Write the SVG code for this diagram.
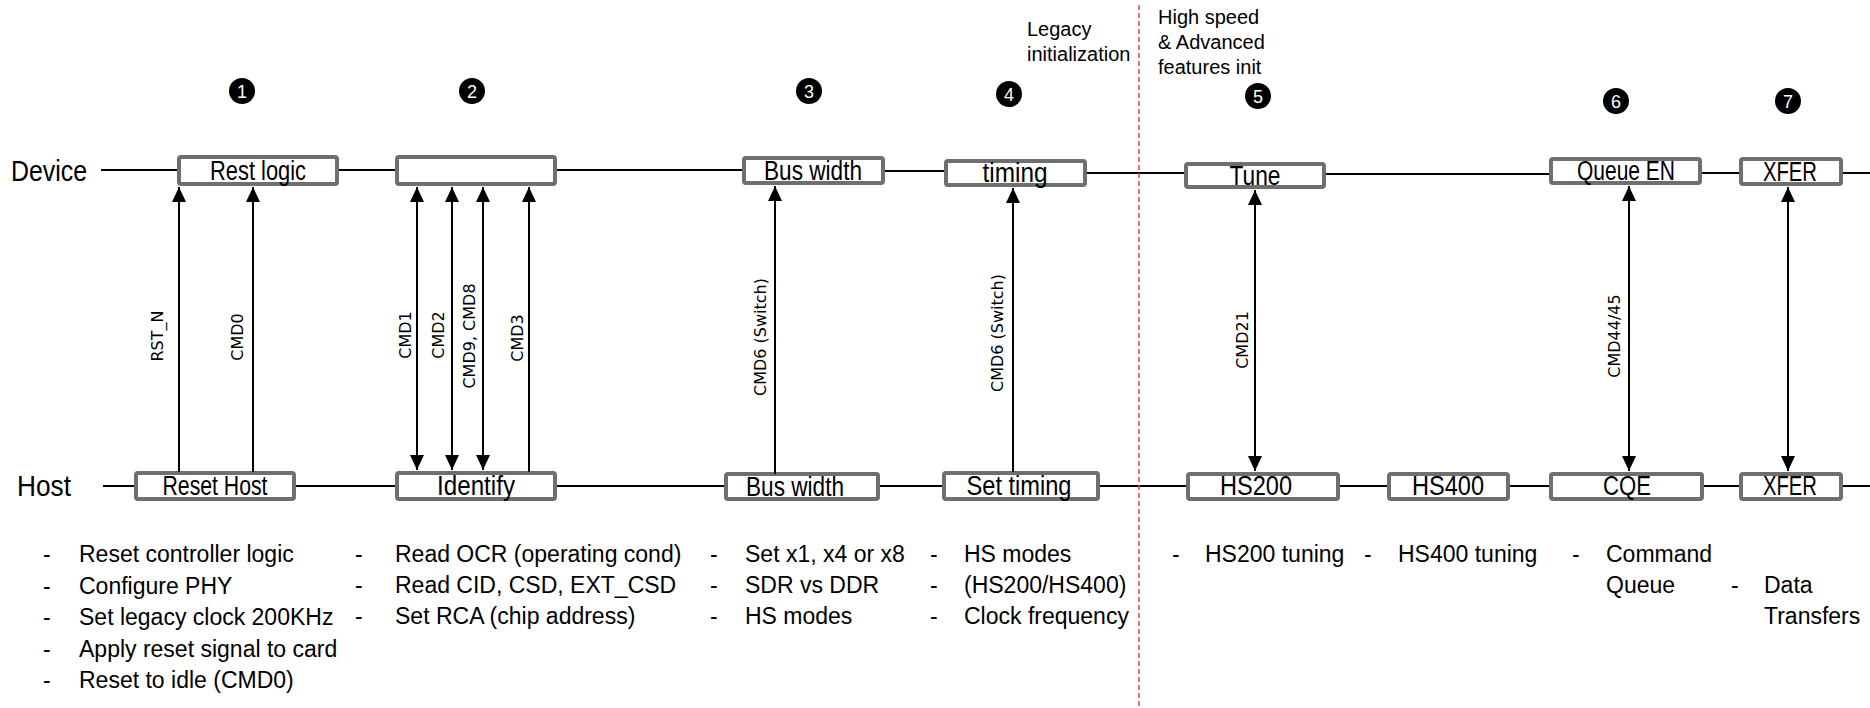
<svg xmlns="http://www.w3.org/2000/svg" width="1870" height="708" viewBox="0 0 1870 708">
<style>
.bx{fill:#fff;stroke:#6f6f6f;stroke-width:4}
.bl{font-family:"Liberation Sans",Arial,sans-serif;font-size:27px;fill:#000;text-anchor:middle}
.lane{font-family:"Liberation Sans",Arial,sans-serif;font-size:29px;fill:#000}
.bul{font-family:"Liberation Sans",Arial,sans-serif;font-size:23px;fill:#000}
.hdr{font-family:"Liberation Sans",Arial,sans-serif;font-size:20px;fill:#000}
.cl{font-family:"DejaVu Sans",Verdana,sans-serif;font-size:16px;fill:#000;text-anchor:middle}
.num{font-family:"Liberation Sans",Arial,sans-serif;font-size:18px;fill:#fff;text-anchor:middle}
.ln{stroke:#000;stroke-width:2;fill:none}
.ar{stroke:#000;stroke-width:2;fill:none;marker-end:url(#ah)}
.ar2{stroke:#000;stroke-width:2;fill:none;marker-end:url(#ah);marker-start:url(#ah)}
</style>
<defs>
<marker id="ah" viewBox="0 0 15 14" refX="15" refY="7" markerWidth="15" markerHeight="14" markerUnits="userSpaceOnUse" orient="auto-start-reverse">
<path d="M0,0 L15,7 L0,14 Z" fill="#000"/>
</marker>
</defs>

<!-- lifelines -->
<g id="lifelines">
<line class="ln" x1="101" y1="170" x2="179" y2="170"/>
<line class="ln" x1="337" y1="170" x2="397" y2="170"/>
<line class="ln" x1="555" y1="170" x2="744" y2="170"/>
<line class="ln" x1="883" y1="171" x2="946" y2="171"/>
<line class="ln" x1="1085" y1="173" x2="1186" y2="173"/>
<line class="ln" x1="1324" y1="174" x2="1551" y2="174"/>
<line class="ln" x1="1700" y1="173" x2="1741" y2="173"/>
<line class="ln" x1="1841" y1="173" x2="1870" y2="173"/>
<line class="ln" x1="103" y1="486" x2="1870" y2="486"/>
</g>

<line x1="1139" y1="5" x2="1139" y2="708" stroke="#e0463c" stroke-width="1.5" stroke-dasharray="5,3"/>

<text class="lane" x="11" y="181" textLength="76" lengthAdjust="spacingAndGlyphs">Device</text>
<text class="lane" x="17" y="496" textLength="54" lengthAdjust="spacingAndGlyphs">Host</text>

<text class="hdr" x="1027" y="36">Legacy</text>
<text class="hdr" x="1027" y="61">initialization</text>
<text class="hdr" x="1158" y="24">High speed</text>
<text class="hdr" x="1158" y="49">&amp; Advanced</text>
<text class="hdr" x="1158" y="74">features init</text>

<!-- step markers -->
<g id="steps">
<circle cx="242" cy="91" r="13"/><text class="num" x="242" y="97.5">1</text>
<circle cx="472" cy="91" r="13"/><text class="num" x="472" y="97.5">2</text>
<circle cx="809" cy="91" r="13"/><text class="num" x="809" y="97.5">3</text>
<circle cx="1009" cy="94" r="13"/><text class="num" x="1009" y="100.5">4</text>
<circle cx="1258" cy="96" r="13"/><text class="num" x="1258" y="102.5">5</text>
<circle cx="1616" cy="101" r="13"/><text class="num" x="1616" y="107.5">6</text>
<circle cx="1788" cy="101" r="13"/><text class="num" x="1788" y="107.5">7</text>
</g>

<!-- device nodes -->
<g id="dev-rest"><rect class="bx" x="179" y="157" width="158" height="27" rx="2"/><text class="bl" x="258" y="180" textLength="96" lengthAdjust="spacingAndGlyphs">Rest logic</text></g>
<g id="dev-identify"><rect class="bx" x="397" y="157" width="158" height="27" rx="2"/></g>
<g id="dev-buswidth"><rect class="bx" x="744" y="158" width="139" height="25" rx="2"/><text class="bl" x="813" y="180" textLength="98" lengthAdjust="spacingAndGlyphs">Bus width</text></g>
<g id="dev-timing"><rect class="bx" x="946" y="161" width="139" height="24" rx="2"/><text class="bl" x="1015" y="182" textLength="65" lengthAdjust="spacingAndGlyphs">timing</text></g>
<g id="dev-tune"><rect class="bx" x="1186" y="164" width="138" height="23" rx="2"/><text class="bl" x="1255" y="185" textLength="51" lengthAdjust="spacingAndGlyphs">Tune</text></g>
<g id="dev-queue"><rect class="bx" x="1551" y="159" width="149" height="24" rx="2"/><text class="bl" x="1626" y="180" textLength="98" lengthAdjust="spacingAndGlyphs">Queue EN</text></g>
<g id="dev-xfer"><rect class="bx" x="1741" y="159" width="100" height="25" rx="2"/><text class="bl" x="1790" y="181" textLength="54" lengthAdjust="spacingAndGlyphs">XFER</text></g>

<!-- host nodes -->
<g id="host-reset"><rect class="bx" x="136" y="473" width="158" height="26" rx="2"/><text class="bl" x="215" y="495" textLength="105" lengthAdjust="spacingAndGlyphs">Reset Host</text></g>
<g id="host-identify"><rect class="bx" x="397" y="473" width="158" height="26" rx="2"/><text class="bl" x="476" y="495" textLength="78" lengthAdjust="spacingAndGlyphs">Identify</text></g>
<g id="host-buswidth"><rect class="bx" x="726" y="474" width="152" height="25" rx="2"/><text class="bl" x="795" y="496" textLength="98" lengthAdjust="spacingAndGlyphs">Bus width</text></g>
<g id="host-settiming"><rect class="bx" x="944" y="473" width="154" height="26" rx="2"/><text class="bl" x="1019" y="495" textLength="105" lengthAdjust="spacingAndGlyphs">Set timing</text></g>
<g id="host-hs200"><rect class="bx" x="1188" y="474" width="150" height="25" rx="2"/><text class="bl" x="1256" y="495" textLength="72" lengthAdjust="spacingAndGlyphs">HS200</text></g>
<g id="host-hs400"><rect class="bx" x="1389" y="474" width="119" height="25" rx="2"/><text class="bl" x="1448" y="495" textLength="72" lengthAdjust="spacingAndGlyphs">HS400</text></g>
<g id="host-cqe"><rect class="bx" x="1551" y="474" width="151" height="25" rx="2"/><text class="bl" x="1627" y="495" textLength="48" lengthAdjust="spacingAndGlyphs">CQE</text></g>
<g id="host-xfer"><rect class="bx" x="1741" y="474" width="100" height="25" rx="2"/><text class="bl" x="1790" y="495" textLength="54" lengthAdjust="spacingAndGlyphs">XFER</text></g>

<!-- connectors -->
<g id="connectors">
<line class="ar" x1="179" y1="472" x2="179" y2="187"/>
<line class="ar" x1="253" y1="472" x2="253" y2="187"/>
<line class="ar2" x1="417" y1="187" x2="417" y2="470"/>
<line class="ar2" x1="452" y1="187" x2="452" y2="470"/>
<line class="ar2" x1="483" y1="187" x2="483" y2="470"/>
<line class="ar" x1="529" y1="472" x2="529" y2="187"/>
<line class="ar" x1="775" y1="474" x2="775" y2="186"/>
<line class="ar" x1="1013" y1="472" x2="1013" y2="188"/>
<line class="ar2" x1="1255" y1="190" x2="1255" y2="471"/>
<line class="ar2" x1="1629" y1="186" x2="1629" y2="471"/>
<line class="ar2" x1="1788" y1="187" x2="1788" y2="471"/>
<text class="cl" transform="translate(163,336) rotate(-90)">RST_N</text>
<text class="cl" transform="translate(243,337) rotate(-90)">CMD0</text>
<text class="cl" transform="translate(411,335) rotate(-90)">CMD1</text>
<text class="cl" transform="translate(444,335) rotate(-90)">CMD2</text>
<text class="cl" transform="translate(475,336) rotate(-90)">CMD9, CMD8</text>
<text class="cl" transform="translate(523,338) rotate(-90)">CMD3</text>
<text class="cl" transform="translate(766,337) rotate(-90)">CMD6 (Switch)</text>
<text class="cl" transform="translate(1003,333) rotate(-90)">CMD6 (Switch)</text>
<text class="cl" transform="translate(1248,340) rotate(-90)">CMD21</text>
<text class="cl" transform="translate(1620,336) rotate(-90)">CMD44/45</text>
</g>

<!-- notes -->
<g id="notes">
<text class="bul" x="43" y="562">-</text><text class="bul" x="79" y="562">Reset controller logic</text>
<text class="bul" x="43" y="594">-</text><text class="bul" x="79" y="594">Configure PHY</text>
<text class="bul" x="43" y="625">-</text><text class="bul" x="79" y="625">Set legacy clock 200KHz</text>
<text class="bul" x="43" y="657">-</text><text class="bul" x="79" y="657">Apply reset signal to card</text>
<text class="bul" x="43" y="688">-</text><text class="bul" x="79" y="688">Reset to idle (CMD0)</text>

<text class="bul" x="355" y="562">-</text><text class="bul" x="395" y="562">Read OCR (operating cond)</text>
<text class="bul" x="355" y="593">-</text><text class="bul" x="395" y="593">Read CID, CSD, EXT_CSD</text>
<text class="bul" x="355" y="624">-</text><text class="bul" x="395" y="624">Set RCA (chip address)</text>

<text class="bul" x="710" y="562">-</text><text class="bul" x="745" y="562">Set x1, x4 or x8</text>
<text class="bul" x="710" y="593">-</text><text class="bul" x="745" y="593">SDR vs DDR</text>
<text class="bul" x="710" y="624">-</text><text class="bul" x="745" y="624">HS modes</text>

<text class="bul" x="930" y="562">-</text><text class="bul" x="964" y="562">HS modes</text>
<text class="bul" x="930" y="593">-</text><text class="bul" x="964" y="593">(HS200/HS400)</text>
<text class="bul" x="930" y="624">-</text><text class="bul" x="964" y="624">Clock frequency</text>

<text class="bul" x="1172" y="562">-</text><text class="bul" x="1205" y="562">HS200 tuning</text>
<text class="bul" x="1364" y="562">-</text><text class="bul" x="1398" y="562">HS400 tuning</text>
<text class="bul" x="1572" y="562">-</text><text class="bul" x="1606" y="562">Command</text>
<text class="bul" x="1606" y="593">Queue</text>
<text class="bul" x="1731" y="593">-</text><text class="bul" x="1764" y="593">Data</text>
<text class="bul" x="1764" y="624">Transfers</text>
</g>
</svg>
